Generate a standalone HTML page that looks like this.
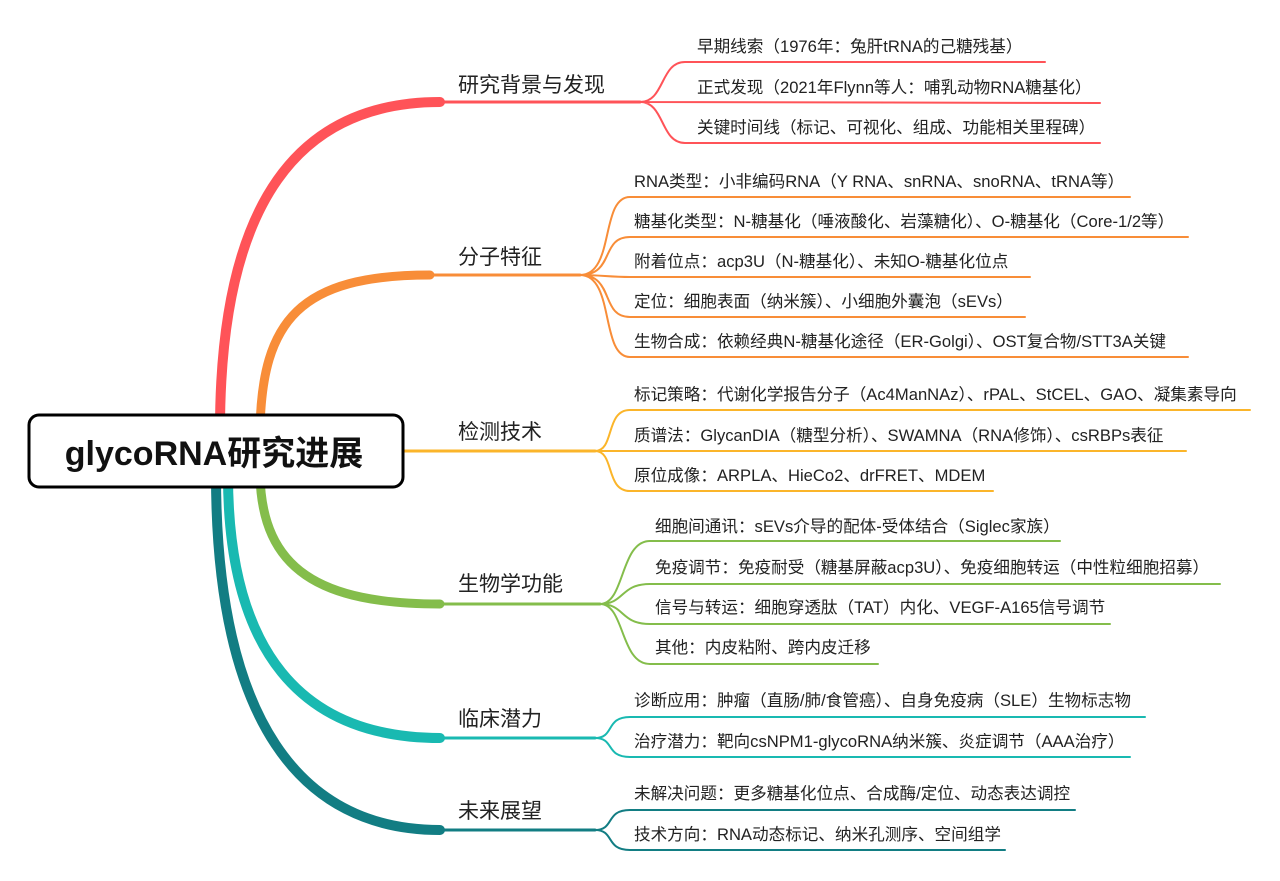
<!DOCTYPE html>
<html><head><meta charset="utf-8"><style>
body{margin:0;background:#fff;}
svg{display:block;font-family:"Liberation Sans","Noto Sans CJK SC",sans-serif;}
.b{font-size:21px;fill:#222;}
.c{font-size:16.6px;fill:#222;}
</style></head><body>
<svg width="1280" height="881" viewBox="0 0 1280 881" xmlns="http://www.w3.org/2000/svg">
<g fill="none" stroke-linecap="round">
<g stroke="#FF5358">
<path d="M220,430 C220,200 300,102 440,102" stroke-width="10"/>
<path d="M430,102 L640,102" stroke-width="3"/>
<path d="M640,102 C665,102 660,62 685,62 L1045,62 M640,102 L1100,103 M640,102 C665,102 660,143 685,143 L1100,143" stroke-width="2"/>
</g>
<g stroke="#F88D38">
<path d="M260,430 C262,320 300,275 430,275" stroke-width="9"/>
<path d="M425,275 L580,275" stroke-width="3"/>
<path d="M580,275 C615,275 600,197 630,197 L1130,197 M580,275 C615,275 600,237 630,237 L1188,237 M580,275 C600,275 610,277 630,277 L1030,277 M580,275 C615,275 600,317 630,317 L1025,317 M580,275 C615,275 600,357 630,357 L1188,357" stroke-width="2"/>
</g>
<g stroke="#FBB52A">
<path d="M403,451 L595,451" stroke-width="3"/>
<path d="M595,451 C615,451 605,410 630,410 L1250,410 M595,451 L1186,451 M595,451 C615,451 605,491 630,491 L993,491" stroke-width="2"/>
</g>
<g stroke="#84BD4B">
<path d="M260,475 C262,570 320,604 440,604" stroke-width="9"/>
<path d="M430,604 L600,604" stroke-width="3"/>
<path d="M600,604 C625,604 620,541 650,541 L1060,541 M600,604 C625,604 620,584 650,584 L1220,584 M600,604 C625,604 620,624 650,624 L1110,624 M600,604 C625,604 620,664 650,664 L878,664" stroke-width="2"/>
</g>
<g stroke="#19B9B1">
<path d="M228,475 C228,650 300,738 440,738" stroke-width="10"/>
<path d="M430,738 L595,738" stroke-width="3"/>
<path d="M595,738 C615,738 605,717 630,717 L1145,717 M595,738 C615,738 605,757 630,757 L1130,757" stroke-width="2"/>
</g>
<g stroke="#127D83">
<path d="M216,475 C216,720 300,830 440,830" stroke-width="10"/>
<path d="M430,830 L595,830" stroke-width="3"/>
<path d="M595,830 C615,830 605,810 630,810 L1075,810 M595,830 C615,830 605,850 630,850 L1005,850" stroke-width="2"/>
</g>
</g>
<rect x="29" y="415" width="374" height="72" rx="10" fill="#fff" stroke="#000" stroke-width="3"/>
<text x="214" y="465" text-anchor="middle" font-size="34" font-weight="bold" fill="#111">glycoRNA研究进展</text>

<text class="b" x="458" y="92">研究背景与发现</text>
<text class="c" x="697" y="52">早期线索（1976年：兔肝tRNA的己糖残基）</text>
<text class="c" x="697" y="93">正式发现（2021年Flynn等人：哺乳动物RNA糖基化）</text>
<text class="c" x="697" y="133">关键时间线（标记、可视化、组成、功能相关里程碑）</text>

<text class="b" x="458" y="264">分子特征</text>
<text class="c" x="634" y="187">RNA类型：小非编码RNA（Y RNA、snRNA、snoRNA、tRNA等）</text>
<text class="c" x="634" y="227">糖基化类型：N-糖基化（唾液酸化、岩藻糖化）、O-糖基化（Core-1/2等）</text>
<text class="c" x="634" y="267">附着位点：acp3U（N-糖基化）、未知O-糖基化位点</text>
<text class="c" x="634" y="307">定位：细胞表面（纳米簇）、小细胞外囊泡（sEVs）</text>
<text class="c" x="634" y="347">生物合成：依赖经典N-糖基化途径（ER-Golgi）、OST复合物/STT3A关键</text>

<text class="b" x="458" y="439">检测技术</text>
<text class="c" x="634" y="400">标记策略：代谢化学报告分子（Ac4ManNAz）、rPAL、StCEL、GAO、凝集素导向</text>
<text class="c" x="634" y="441">质谱法：GlycanDIA（糖型分析）、SWAMNA（RNA修饰）、csRBPs表征</text>
<text class="c" x="634" y="481">原位成像：ARPLA、HieCo2、drFRET、MDEM</text>

<text class="b" x="458" y="591">生物学功能</text>
<text class="c" x="655" y="532">细胞间通讯：sEVs介导的配体-受体结合（Siglec家族）</text>
<text class="c" x="655" y="573">免疫调节：免疫耐受（糖基屏蔽acp3U）、免疫细胞转运（中性粒细胞招募）</text>
<text class="c" x="655" y="613">信号与转运：细胞穿透肽（TAT）内化、VEGF-A165信号调节</text>
<text class="c" x="655" y="653">其他：内皮粘附、跨内皮迁移</text>

<text class="b" x="458" y="726">临床潜力</text>
<text class="c" x="634" y="706">诊断应用：肿瘤（直肠/肺/食管癌）、自身免疫病（SLE）生物标志物</text>
<text class="c" x="634" y="747">治疗潜力：靶向csNPM1-glycoRNA纳米簇、炎症调节（AAA治疗）</text>

<text class="b" x="458" y="818">未来展望</text>
<text class="c" x="634" y="799">未解决问题：更多糖基化位点、合成酶/定位、动态表达调控</text>
<text class="c" x="634" y="840">技术方向：RNA动态标记、纳米孔测序、空间组学</text>
</svg>
</body></html>
